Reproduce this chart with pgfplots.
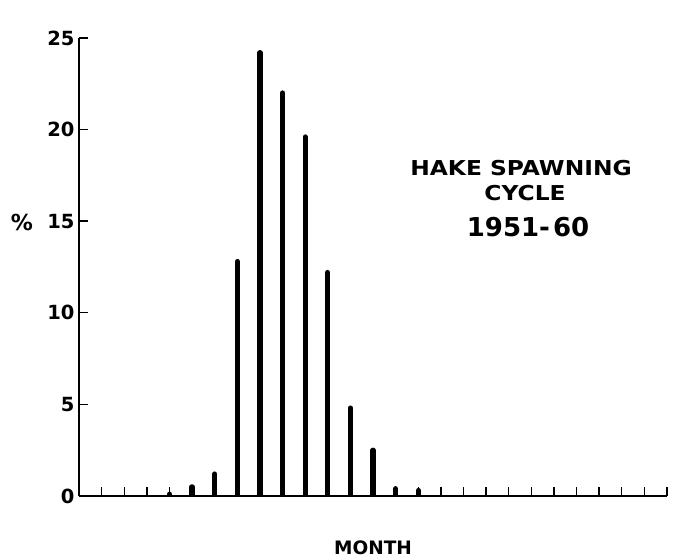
\documentclass[border=0pt]{standalone}
\usepackage{fontspec}
\setmainfont{DejaVu Sans}
\newfontfamily\lettering[FakeStretch=1.14]{DejaVu Sans}
\usepackage{pgfplots}
\pgfplotsset{compat=1.18}
\begin{document}
\begin{tikzpicture}[x=1pt,y=1pt]
\path (0,0) rectangle (679,559);
\begin{axis}[at={(79pt,63pt)}, anchor=south west, scale only axis,
 width=588pt, height=458pt,
 xmin=0, xmax=26, ymin=0, ymax=25,
 axis x line=bottom, axis y line=left,
 axis line style={-, line width=1.8pt},
 xtick={1,...,26}, xticklabels={},
 ytick={0,5,...,25},
 tick style={line width=1.4pt, black},
 major tick length=9pt, tick align=inside,
 yticklabel style={font=\bfseries\fontsize{19.5}{19.5}\selectfont, xshift=-1pt},
 /pgf/number format/assume math mode=true,
]
\addplot[ycomb, line width=5.2pt, line cap=round, black] coordinates {
 (4,0.1) (5,0.5) (6,1.2) (7,12.8) (8,24.2) (9,22.0) (10,19.6)
 (11,12.2) (12,4.8) (13,2.5) (14,0.4) (15,0.3)
};
\end{axis}
\node[font=\bfseries\fontsize{22}{22}\selectfont] at (22,337) {\%};
\node[font=\bfseries\fontsize{18.5}{18.5}\selectfont] at (373,11) {MONTH};
\node[font=\lettering\bfseries\fontsize{20.5}{20.5}\selectfont] at (521,391) {HAKE SPAWNING};
\node[font=\lettering\bfseries\fontsize{20.5}{20.5}\selectfont] at (525,366) {CYCLE};
\node[font=\bfseries\fontsize{26}{26}\selectfont] at (528,332) {1951-\hspace{3pt}60};
\end{tikzpicture}
\end{document}
